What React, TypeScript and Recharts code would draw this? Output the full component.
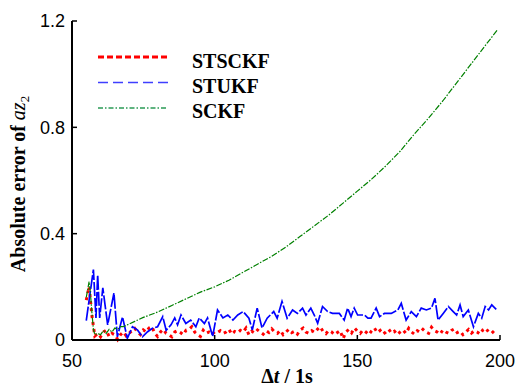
import React from 'react';
import { LineChart, Line, XAxis, YAxis } from 'recharts';

// STSCKF absolute error (dotted red)
const stsckfT = [
  55, 56, 57, 58, 59, 60, 61, 62, 63, 64, 65, 66, 67, 68, 69, 70, 71, 72, 73, 74,
  75, 76, 77, 78, 79, 80, 81, 82, 83, 84, 85, 86, 87, 88, 89, 90, 91, 92, 93, 94,
  95, 96, 97, 98, 99, 100, 101, 102, 103, 104, 105, 106, 107, 108, 109, 110, 111, 112, 113, 114,
  115, 116, 117, 118, 119, 120, 121, 122, 123, 124, 125, 126, 127, 128, 129, 130, 131, 132, 133, 134,
  135, 136, 137, 138, 139, 140, 141, 142, 143, 144, 145, 146, 147, 148, 149, 150, 151, 152, 153, 154,
  155, 156, 157, 158, 159, 160, 161, 162, 163, 164, 165, 166, 167, 168, 169, 170, 171, 172, 173, 174,
  175, 176, 177, 178, 179, 180, 181, 182, 183, 184, 185, 186, 187, 188, 189, 190, 191, 192, 193, 194,
  195, 196, 197, 198, 199,
];
const stsckfErr = [
  0.15, 0.2, 0.09, 0.015, 0.025, 0.012, 0.03, 0.037, 0.013, 0.025, 0.02, 0.002, 0.02, 0.03, 0.015, 0.025, 0.035, 0.044, 0.03, 0.02,
  0.038, 0.03, 0.045, 0.05, 0.025, 0.013, 0.03, 0.04, 0.025, 0.019, 0.012, 0.03, 0.035, 0.028, 0.02, 0.037, 0.04, 0.05, 0.03, 0.02,
  0.013, 0.037, 0.025, 0.03, 0.02, 0.031, 0.028, 0.035, 0.025, 0.03, 0.04, 0.022, 0.032, 0.027, 0.036, 0.03, 0.045, 0.02, 0.033, 0.026,
  0.038, 0.03, 0.022, 0.035, 0.028, 0.042, 0.03, 0.025, 0.036, 0.02, 0.03, 0.04, 0.028, 0.033, 0.022, 0.038, 0.045, 0.03, 0.025, 0.035,
  0.028, 0.04, 0.05, 0.032, 0.024, 0.036, 0.03, 0.02, 0.028, 0.035, 0.005, 0.03, 0.04, 0.027, 0.045, 0.033, 0.025, 0.038, 0.03, 0.02,
  0.034, 0.045, 0.028, 0.036, 0.022, 0.03, 0.04, 0.026, 0.033, 0.02, 0.03, 0.038, 0.025, 0.044, 0.03, 0.022, 0.035, 0.028, 0.04, 0.03,
  0.025, 0.048, 0.035, 0.03, 0.022, 0.038, 0.03, 0.025, 0.036, 0.042, 0.028, 0.033, 0.02, 0.03, 0.04, 0.026, 0.035, 0.03, 0.022, 0.038,
  0.045, 0.03, 0.025, 0.035, 0.028,
];

// STUKF absolute error (dashed blue)
const stukfT = [
  55, 57.5, 58.4, 59, 59.7, 60.8, 62.5, 64.7, 65.9, 67.7, 69.4, 71.2, 73, 74.7, 76.5, 78.2, 80, 81.8, 83, 84.7,
  86, 87, 88.2, 89.9, 91.6, 93.4, 94.6, 96.4, 97.5, 99.3, 101, 102.9, 104.6, 106.4, 108.1, 110, 112, 113.2, 114.9, 116.6,
  118.4, 120.7, 121.9, 123.6, 125.4, 127.3, 129, 130.8, 132, 133.7, 134.9, 136.1, 137.8, 139.6, 141.3, 143.7, 145.4, 146.6, 147.8, 148.9,
  150.1, 152.5, 153.7, 154.8, 156.6, 157.8, 159.5, 161.9, 164.2, 165.4, 167.1, 168.9, 170.7, 172.4, 174.2, 176, 177.2, 178.3, 180.1, 181.9,
  183.6, 184.8, 186, 187.1, 188.9, 190.7, 192.4, 193.6, 194.8, 196, 197.1, 198.9,
];
const stukfErr = [
  0.073, 0.265, 0.083, 0.245, 0.083, 0.196, 0.057, 0.177, 0.012, 0.087, 0.006, 0.05, 0.037, 0.012, 0.031, 0.044, 0.05, 0.088, 0.037, 0.057,
  0.083, 0.057, 0.094, 0.062, 0.075, 0.05, 0.083, 0.062, 0.083, 0.013, 0.113, 0.083, 0.094, 0.075, 0.094, 0.107, 0.082, 0.038, 0.12, 0.045,
  0.082, 0.107, 0.082, 0.145, 0.082, 0.113, 0.1, 0.12, 0.094, 0.12, 0.094, 0.063, 0.126, 0.107, 0.1, 0.1, 0.075, 0.12, 0.088, 0.12,
  0.094, 0.094, 0.082, 0.082, 0.12, 0.088, 0.1, 0.1, 0.113, 0.138, 0.075, 0.107, 0.088, 0.12, 0.113, 0.12, 0.157, 0.075, 0.1, 0.126,
  0.107, 0.094, 0.132, 0.088, 0.113, 0.05, 0.1, 0.082, 0.126, 0.113, 0.132, 0.113,
];

// SCKF absolute error (dash-dot green)
const sckfT = [
  55, 55.5, 56, 56.5, 57, 57.5, 58, 59, 60, 61, 62, 63, 64, 65, 66, 67, 68, 69, 70, 72,
  75, 80, 85, 90, 95, 100, 105, 110, 115, 120, 125, 130, 135, 140, 145, 150, 155, 160, 165, 170,
  175, 180, 185, 190, 195, 199,
];
const sckfErr = [
  0.16, 0.19, 0.22, 0.17, 0.1, 0.04, 0.02, 0.025, 0.02, 0.035, 0.025, 0.04, 0.03, 0.045, 0.04, 0.05, 0.05, 0.055, 0.06, 0.07,
  0.085, 0.105, 0.13, 0.155, 0.18, 0.2, 0.225, 0.255, 0.285, 0.315, 0.35, 0.39, 0.43, 0.47, 0.515, 0.56, 0.605, 0.655, 0.71, 0.775,
  0.835, 0.9, 0.97, 1.04, 1.11, 1.165,
];

const xTicks = [50, 100, 150, 200];
const yTicks = [0, 0.4, 0.8, 1.2];

const toPoints = (ts: number[], vs: number[]) => ts.map((t, i) => ({ t, v: vs[i] }));

const series = [
  {
    name: 'STSCKF', data: toPoints(stsckfT, stsckfErr), color: '#ff0000',
    width: 3, dash: '3 4', keyColor: '#ff0000', keyWidth: 3, keyDash: '6 3',
  },
  {
    name: 'STUKF', data: toPoints(stukfT, stukfErr), color: '#0000ff',
    width: 1.7, dash: '14 2', keyColor: '#3f3fff', keyWidth: 1.5, keyDash: '10 5',
  },
  {
    name: 'SCKF', data: toPoints(sckfT, sckfErr), color: '#008000',
    width: 1.2, dash: '6 1.5 1.5 1.5', keyColor: '#2a9a55', keyWidth: 1.3, keyDash: '5 2 1.5 2',
  },
];

const tickStyle = { fontSize: 18, fill: '#000', fontFamily: '"Liberation Sans", Arial, sans-serif' };
const serifText: React.CSSProperties = {
  fontFamily: "'Liberation Serif', 'Times New Roman', serif",
  fontWeight: 700,
  fontSize: 20,
};
const axisLine = { stroke: '#000', strokeWidth: 2 };
const tickLine = { stroke: '#000', strokeWidth: 1.5 };

const App: React.FC = () => {
  return (
    <div style={{ position: 'absolute', left: 0, top: 0, width: 518, height: 387, background: '#fff' }}>
      <LineChart width={518} height={387} margin={{ top: 21, right: 18, bottom: 0, left: 0 }}>
        <XAxis
          type="number"
          dataKey="t"
          domain={[50, 200]}
          ticks={xTicks}
          height={47}
          tick={tickStyle}
          axisLine={axisLine}
          tickLine={tickLine}
          tickSize={-5}
          tickMargin={19}
          allowDataOverflow
        />
        <XAxis
          xAxisId="top"
          orientation="top"
          type="number"
          dataKey="t"
          domain={[50, 200]}
          ticks={xTicks}
          height={0}
          tickFormatter={() => ''}
          axisLine={axisLine}
          tickLine={tickLine}
          tickSize={-5}
        />
        <YAxis
          type="number"
          domain={[0, 1.2]}
          ticks={yTicks}
          width={72}
          tick={tickStyle}
          tickFormatter={(v: number) => (v === 0 ? '0' : v.toFixed(1))}
          axisLine={axisLine}
          tickLine={tickLine}
          tickSize={-5}
          tickMargin={12}
        />
        <YAxis
          yAxisId="right"
          orientation="right"
          type="number"
          domain={[0, 1.2]}
          ticks={yTicks}
          width={0}
          tickFormatter={() => ''}
          axisLine={axisLine}
          tickLine={tickLine}
          tickSize={-5}
        />
        {series.map((s) => (
          <Line
            key={s.name}
            data={s.data}
            dataKey="v"
            type="linear"
            stroke={s.color}
            strokeWidth={s.width}
            strokeDasharray={s.dash}
            dot={false}
            isAnimationActive={false}
          />
        ))}
      </LineChart>
      <svg
        width={518}
        height={387}
        style={{ position: 'absolute', left: 0, top: 0, pointerEvents: 'none' }}
      >
        {series.map((s, i) => (
          <g key={s.name}>
            <line
              x1={98}
              x2={168}
              y1={57 + i * 25.5}
              y2={57 + i * 25.5}
              stroke={s.keyColor}
              strokeWidth={s.keyWidth}
              strokeDasharray={s.keyDash}
            />
            <text x={192} y={68 + i * 25} fill="#000" style={serifText}>
              {s.name}
            </text>
          </g>
        ))}
        <text transform="translate(25,184) rotate(-90)" textAnchor="middle" fill="#000" style={serifText}>
          Absolute error of <tspan style={{ fontStyle: 'italic', fontWeight: 400 }}>az</tspan>
          <tspan style={{ fontSize: 13, fontWeight: 400 }} dy={4}>2</tspan>
        </text>
        <text x={287} y={383} textAnchor="middle" fill="#000" style={serifText}>
          Δ<tspan style={{ fontStyle: 'italic' }}>t</tspan> / 1s
        </text>
      </svg>
    </div>
  );
};

export default App;
